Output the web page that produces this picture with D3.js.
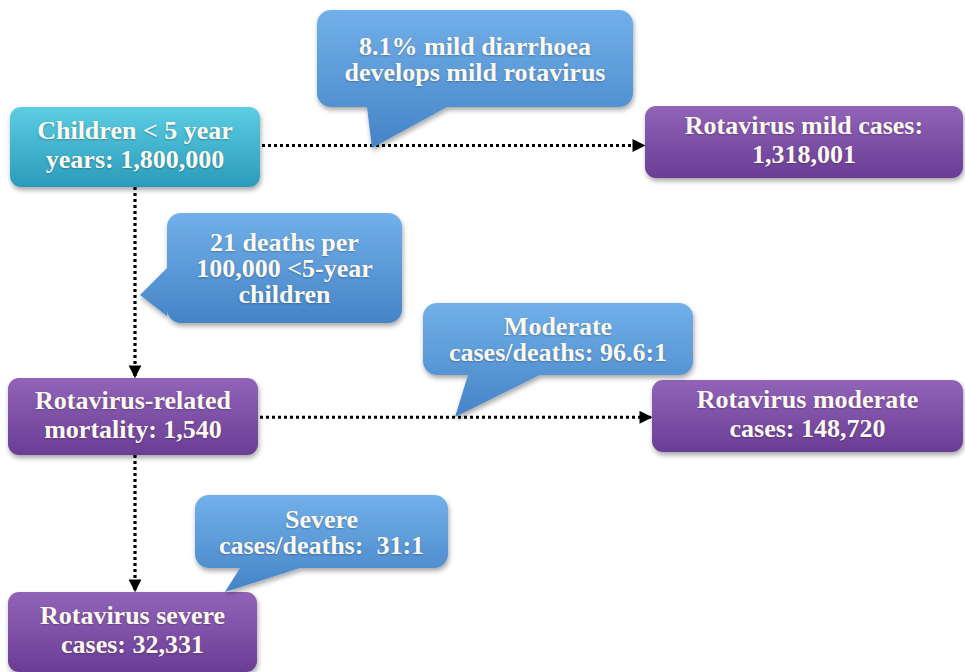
<!DOCTYPE html>
<html>
<head>
<meta charset="utf-8">
<script src="https://cdn.jsdelivr.net/npm/d3@7"></script>
<style>
  body { margin: 0; background: #fff; }
  #chart { position: relative; width: 965px; height: 672px; overflow: hidden; }
  svg { display: block; position: absolute; left: 0; top: 0; }
  .label {
    position: absolute;
    display: flex; align-items: center; justify-content: center;
    text-align: center; white-space: pre;
    font-weight: bold; font-size: 26px;
    color: #fbf8ee;
    text-shadow: 0 1px 2px rgba(0,0,0,0.25);
  }
</style>
</head>
<body>
<div id="chart"><svg width="965" height="672"></svg></div>
<script>
// flow boxes: id, kind, label lines
var boxIds = ["kids", "mild", "mortality", "moderate", "severe"];
var boxKinds = ["cyan", "purple", "purple", "purple", "purple"];
var boxLabels = [
  ["Children < 5 year", "years: 1,800,000"],
  ["Rotavirus mild cases:", "1,318,001"],
  ["Rotavirus-related", "mortality: 1,540"],
  ["Rotavirus moderate", "cases: 148,720"],
  ["Rotavirus severe", "cases: 32,331"]
];

// callout notes
var noteLabels = [
  ["8.1% mild diarrhoea", "develops mild rotavirus"],
  ["21 deaths per", "100,000 <5-year", "children"],
  ["Moderate", "cases/deaths: 96.6:1"],
  ["Severe", "cases/deaths:  31:1"]
];

// links between boxes
var links = [
  {source: "kids", target: "mild", dir: "h"},
  {source: "kids", target: "mortality", dir: "v"},
  {source: "mortality", target: "moderate", dir: "h"},
  {source: "mortality", target: "severe", dir: "v"}
];

// layout (pixels) kept apart from the values
var boxLayout = {
  kids:      {x: 10,  y: 107, w: 250, h: 80},
  mild:      {x: 645, y: 106, w: 318, h: 72},
  mortality: {x: 8,   y: 378, w: 250, h: 77},
  moderate:  {x: 652, y: 380, w: 311, h: 72},
  severe:    {x: 8,   y: 592, w: 249, h: 80}
};
var noteLayout = [
  {x: 317, y: 10,  w: 316, h: 97,  side: "bottom", b0: 367, b1: 447, tip: [372, 148]},
  {x: 167, y: 213, w: 235, h: 110, side: "left",   b0: 268, b1: 316, tip: [140, 295]},
  {x: 423, y: 303, w: 270, h: 72,  side: "bottom", b0: 468, b1: 540, tip: [455, 417]},
  {x: 195, y: 495, w: 253, h: 73,  side: "bottom", b0: 240, b1: 300, tip: [225, 592]}
];

var serif = "'Liberation Serif', 'Times New Roman', Tinos, serif";

var chart = d3.select("#chart");
var svg = chart.select("svg");
var defs = svg.append("defs");

function grad(id, top, bottom) {
  var g = defs.append("linearGradient").attr("id", id)
    .attr("x1", 0).attr("y1", 0).attr("x2", 0).attr("y2", 1);
  g.append("stop").attr("offset", "0%").attr("stop-color", top);
  g.append("stop").attr("offset", "100%").attr("stop-color", bottom);
}
grad("g-cyan", "#5ccde2", "#2a9bbb");
grad("g-purple", "#9164b8", "#6a3d95");
grad("g-blue", "#72b0ea", "#4583c6");

var shadow = defs.append("filter").attr("id", "shadow")
  .attr("x", "-10%").attr("y", "-10%").attr("width", "130%").attr("height", "140%");
shadow.append("feDropShadow").attr("dx", 1).attr("dy", 3).attr("stdDeviation", 2.5)
  .attr("flood-color", "#000").attr("flood-opacity", 0.35);

defs.append("marker").attr("id", "arrow")
  .attr("viewBox", "0 0 10 10").attr("refX", 9).attr("refY", 5)
  .attr("markerWidth", 4).attr("markerHeight", 4).attr("orient", "auto")
  .append("path").attr("d", "M0,0L10,5L0,10Z").attr("fill", "#000");

//###############################################
// links
//###############################################
svg.append("g").attr("id", "links")
  .selectAll("line").data(links).enter().append("line")
    .attr("x1", function(d) {
      var s = boxLayout[d.source];
      return d.dir == "h" ? s.x + s.w + 2 : 135;
    })
    .attr("y1", function(d) {
      var s = boxLayout[d.source], t = boxLayout[d.target];
      return d.dir == "h" ? (t.y + t.h / 2 + s.y + s.h / 2) / 2 + 1 : s.y + s.h;
    })
    .attr("x2", function(d) {
      var t = boxLayout[d.target];
      return d.dir == "h" ? t.x - 1 : 135;
    })
    .attr("y2", function(d) {
      var s = boxLayout[d.source], t = boxLayout[d.target];
      return d.dir == "h" ? (t.y + t.h / 2 + s.y + s.h / 2) / 2 + 1 : t.y - 1;
    })
    .attr("stroke", "#000")
    .attr("stroke-width", 3.2)
    .attr("stroke-dasharray", "3,3")
    .attr("marker-end", "url(#arrow)");

//###############################################
// boxes
//###############################################
svg.append("g").attr("id", "boxes")
  .selectAll("rect").data(boxIds).enter().append("rect")
    .attr("x", function(d) { return boxLayout[d].x; })
    .attr("y", function(d) { return boxLayout[d].y; })
    .attr("width", function(d) { return boxLayout[d].w; })
    .attr("height", function(d) { return boxLayout[d].h; })
    .attr("rx", 11)
    .attr("fill", function(d, i) { return "url(#g-" + boxKinds[i] + ")"; })
    .attr("filter", "url(#shadow)");

//###############################################
// callouts
//###############################################
function calloutPath(c) {
  var r = 14, x0 = c.x, y0 = c.y, x1 = c.x + c.w, y1 = c.y + c.h;
  var p = d3.path();
  p.moveTo(x0 + r, y0);
  p.lineTo(x1 - r, y0);
  p.arcTo(x1, y0, x1, y0 + r, r);
  p.lineTo(x1, y1 - r);
  p.arcTo(x1, y1, x1 - r, y1, r);
  if (c.side == "bottom") {
    p.lineTo(c.b1, y1);
    p.lineTo(c.tip[0], c.tip[1]);
    p.lineTo(c.b0, y1);
  }
  p.lineTo(x0 + r, y1);
  p.arcTo(x0, y1, x0, y1 - r, r);
  if (c.side == "left") {
    p.lineTo(x0, c.b1);
    p.lineTo(c.tip[0], c.tip[1]);
    p.lineTo(x0, c.b0);
  }
  p.lineTo(x0, y0 + r);
  p.arcTo(x0, y0, x0 + r, y0, r);
  p.closePath();
  return p.toString();
}

svg.append("g").attr("id", "notes")
  .selectAll("path").data(noteLabels).enter().append("path")
    .attr("d", function(d, i) { return calloutPath(noteLayout[i]); })
    .attr("fill", "url(#g-blue)")
    .attr("filter", "url(#shadow)");

//###############################################
// labels
//###############################################
chart.selectAll("div.box-label").data(boxIds).enter().append("div")
  .attr("class", "label box-label")
  .style("font-family", serif, "important")
  .style("left", function(d) { return boxLayout[d].x + "px"; })
  .style("top", function(d) { return (boxLayout[d].y - 2) + "px"; })
  .style("width", function(d) { return boxLayout[d].w + "px"; })
  .style("height", function(d) { return boxLayout[d].h + "px"; })
  .style("line-height", "29px")
  .text(function(d, i) { return boxLabels[i].join("\n"); });

chart.selectAll("div.note-label").data(noteLabels).enter().append("div")
  .attr("class", "label note-label")
  .style("font-family", serif, "important")
  .style("left", function(d, i) { return noteLayout[i].x + "px"; })
  .style("top", function(d, i) { return (noteLayout[i].y + 1) + "px"; })
  .style("width", function(d, i) { return noteLayout[i].w + "px"; })
  .style("height", function(d, i) { return noteLayout[i].h + "px"; })
  .style("line-height", "26px")
  .text(function(d) { return d.join("\n"); });
</script>
</body>
</html>
